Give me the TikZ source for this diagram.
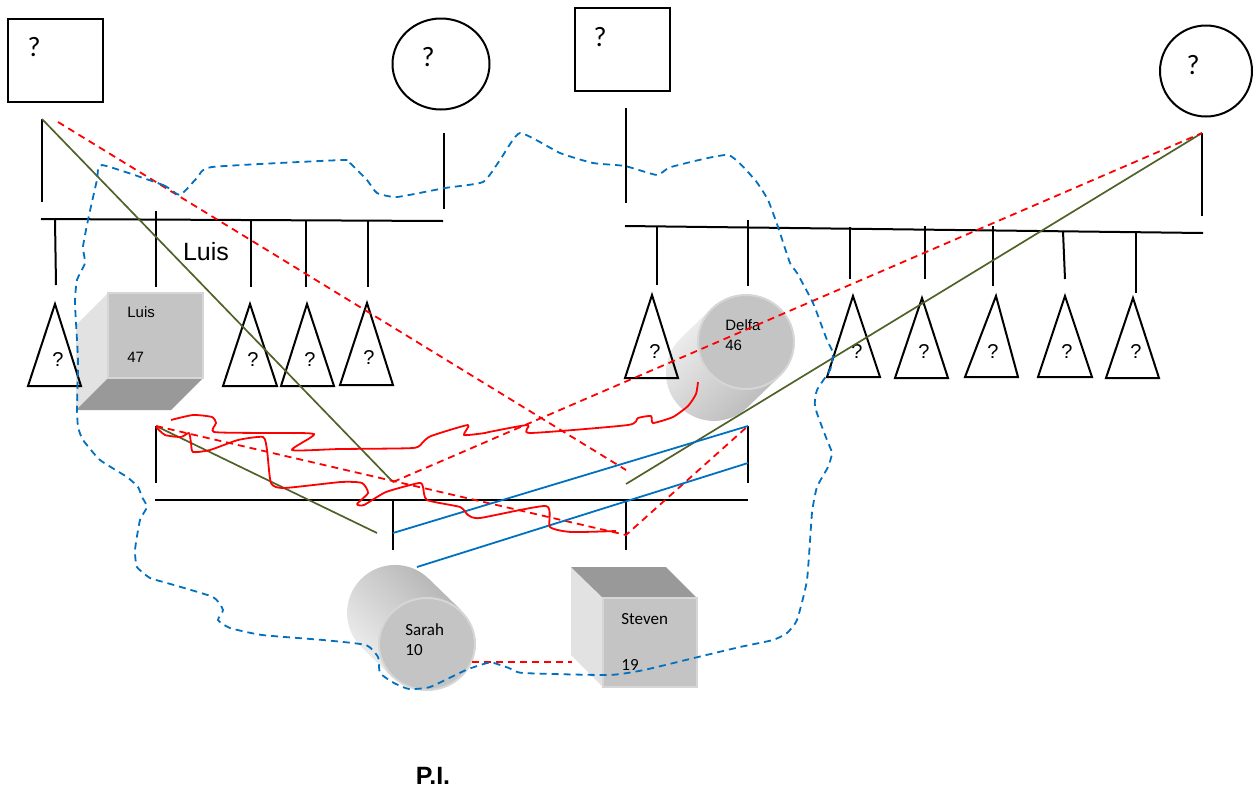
\documentclass[tikz,border=0pt]{standalone}
\usepackage{fontspec}
\setmainfont{Liberation Sans}
\newfontfamily\calib{Carlito}
\definecolor{oliveg}{HTML}{4F6228}
\definecolor{bluel}{HTML}{0070C0}
\definecolor{redl}{HTML}{FF0000}
\definecolor{cubefront}{HTML}{C4C4C4}
\definecolor{cubeside}{HTML}{E2E2E2}
\definecolor{cubedark}{HTML}{999999}
\definecolor{cuberim}{HTML}{D6D6D6}
\begin{document}
\begin{tikzpicture}[x=0.5pt,y=-0.5pt,
  blk/.style={draw=black,line width=1pt},
  grn/.style={draw=oliveg,line width=0.85pt},
  blu/.style={draw=bluel,line width=0.9pt},
  rdash/.style={draw=redl,line width=0.9pt,dash pattern=on 3.5pt off 2.5pt},
  bdash/.style={draw=bluel,line width=0.9pt,dash pattern=on 3.5pt off 2.5pt},
  rsq/.style={draw=redl,line width=0.9pt,line join=round},
  qbig/.style={font=\calib\fontsize{14}{16}\selectfont,inner sep=0pt},
  qtri/.style={font=\fontsize{10}{11}\selectfont,inner sep=0pt},
  lab/.style={font=\fontsize{7.5}{9}\selectfont,inner sep=0pt,anchor=west},
  labc/.style={font=\calib\fontsize{8.5}{10}\selectfont,inner sep=0pt,anchor=west},
  front/.style={fill=cubefront,draw=cuberim,line width=1.2pt},
  side/.style={fill=cubeside},
  dark/.style={fill=cubedark}]
\useasboundingbox (0,0) rectangle (1254,788);

% ---------- parents ----------
\draw[blk] (8,19) rectangle (103,102);
\node[qbig] (q1) at (34,47) {?};
\draw[blk] (441,64) ellipse [x radius=48.5, y radius=45.5];
\node[qbig] (q2) at (428,57) {?};
\draw[blk] (575,8) rectangle (670,91);
\node[qbig] (q3) at (600,37) {?};
\draw[blk] (1206,71) ellipse [x radius=46, y radius=45.5];
\node[qbig] (q4) at (1193,65) {?};

% ---------- left family ----------
\coordinate (L1) at (42,119);
\draw[blk] (L1) -- (42,202);
\coordinate (L2) at (444,133);
\draw[blk] (L2) -- (444,209);
\draw[blk] (41,219) -- (443,221);
\draw[blk] (55,220) -- (56,285);
\draw[blk] (156,211) -- (156,287);
\draw[blk] (251,220) -- (251,287);
\draw[blk] (306,220) -- (306,287);
\draw[blk] (368,220) -- (368,287);
\node[font=\fontsize{12.5}{14}\selectfont,inner sep=0pt] (luisbig) at (206,252) {Luis};

% Luis cube
\fill[side] (76,325) -- (108,293) -- (108,378) -- (76,410) -- cycle;
\fill[dark] (76,410) -- (108,378) -- (203,378) -- (171,410) -- cycle;
\draw[front] (108,293) rectangle (203,378);
\node[lab] (luisname) at (127,312) {Luis};
\node[lab] (luisage) at (127,357) {47};

% left triangles
\draw[blk] (55,304) -- (28,386) -- (81,386) -- cycle;
\node[qtri] (t1) at (58,360) {?};
\draw[blk] (250,304) -- (223,386) -- (277,386) -- cycle;
\node[qtri] (t2) at (253,360) {?};
\draw[blk] (307,304) -- (281,386) -- (334,386) -- cycle;
\node[qtri] (t3) at (310,360) {?};
\draw[blk] (367,303) -- (340,385) -- (393,385) -- cycle;
\node[qtri] (t4) at (369,358) {?};

% ---------- right family ----------
\coordinate (R1) at (626,108);
\draw[blk] (R1) -- (626,203);
\coordinate (R2) at (1202,133);
\draw[blk] (R2) -- (1202,216);
\draw[blk] (625,226) -- (1203,233);
\draw[blk] (657,227) -- (657,285);
\draw[blk] (748,220) -- (748,286);
\draw[blk] (850,227) -- (850,279);
\draw[blk] (925,226) -- (925,279);
\draw[blk] (993,226) -- (993,286);
\draw[blk] (1063,231) -- (1065,279);
\draw[blk] (1136,233) -- (1136,293);

% Delfa cylinder
\shade[top color=gray!12, bottom color=gray!55, shading angle=45]
  (711,309) -- (680,339) arc[start angle=225, end angle=45, radius=48] -- (780,376) -- cycle;
\draw[fill=cubefront,draw=cuberim,line width=1pt] (746,342) ellipse [x radius=48, y radius=47];
\node[lab] (delfaname) at (725,325) {Delfa};
\node[lab] (delfaage) at (725,345) {46};

% right triangles
\draw[blk] (652,295) -- (625,378) -- (678,378) -- cycle;
\node[qtri] (t5) at (655,352) {?};
\draw[blk] (853,296) -- (827,377) -- (880,377) -- cycle;
\node[qtri] (t6) at (857,352) {?};
\draw[blk] (922,298) -- (895,378) -- (948,378) -- cycle;
\node[qtri] (t7) at (924,352) {?};
\draw[blk] (996,296) -- (965,377) -- (1018,377) -- cycle;
\node[qtri] (t8) at (993,352) {?};
\draw[blk] (1065,296) -- (1038,377) -- (1092,377) -- cycle;
\node[qtri] (t9) at (1067,352) {?};
\draw[blk] (1133,298) -- (1106,378) -- (1159,378) -- cycle;
\node[qtri] (t10) at (1136,352) {?};

% ---------- child family ----------
\coordinate (C1) at (156,426);
\coordinate (C2) at (748,426);
\coordinate (C3) at (393,533);
\coordinate (C4) at (626,535);
\coordinate (C5) at (393,482);
\coordinate (C6) at (626,484);
\coordinate (C7) at (748,463);
\coordinate (C8) at (626,470);
\coordinate (C9) at (377,533);
\coordinate (C10) at (417,567);
\draw[blk] (C1) -- (156,483);
\draw[blk] (C2) -- (748,483);
\draw[blk] (155,500) -- (748,500);
\draw[blk] (393,500) -- (393,550);
\draw[blk] (626,500) -- (626,550);

% Sarah cylinder
\shade[top color=gray!60, bottom color=gray!12, shading angle=-45]
  (461,610) -- (429,579) arc[start angle=315, end angle=135, radius=48] -- (393,678) -- cycle;
\draw[fill=cubefront,draw=cuberim,line width=1pt] (427,644) ellipse [x radius=48, y radius=46];
\node[labc] (sarahname) at (405,630) {Sarah};
\node[labc] (sarahage) at (405,650) {10};

% Steven cube
\fill[side] (571,567) -- (603,598) -- (603,687) -- (571,655) -- cycle;
\fill[dark] (571,567) -- (666,567) -- (697,598) -- (603,598) -- cycle;
\draw[front] (603,598) rectangle (697,687);
\node[labc] (stevenname) at (621,619) {Steven};
\node[labc] (stevenage) at (621,665) {19};

% ---------- connectors ----------
\draw[grn] (L1) -- (C5);
\draw[grn] (C1) -- (C9);
\draw[grn] (C6) -- (R2);

\coordinate (L1r) at (58,122);
\draw[rdash] (L1r) -- (C8);
\draw[rdash] (C1) -- (C4) -- (C2);
\draw[rdash] (C5) -- (R2);
\coordinate (S1) at (472,662);
\coordinate (S2) at (572,662);
\draw[rdash] (S1) -- (S2);

\draw[blu] (C3) -- (C2);
\draw[blu] (C10) -- (C7);

% red squiggles
\draw[rsq] plot[smooth, tension=0.35] coordinates {
 (171,420) (193,415) (212,417) (216,423) (214,432) (263,433) (314,434) (292,450)
 (340,449) (413,448) (423,442) (431,436) (468,425) (464,435) (485,433) (489,432)
 (528,425) (530,433) (628,425) (638,418) (651,416) (653,423) (673,417) (688,406)
 (696,394) (698,382)};
\draw[rsq] plot[smooth, tension=0.35] coordinates {
 (156,427) (165,435) (181,437) (189,433) (191,443) (193,452) (210,450) (238,440)
 (263,437) (267,450) (271,483) (284,488) (341,482) (362,483) (368,493) (357,504)
 (364,505) (386,492) (419,483) (423,487) (427,500) (460,507) (468,515) (480,518)
 (546,506) (550,527) (571,532) (616,531)};

% blue dashed boundary
\draw[bdash] plot[smooth cycle, tension=0.3] coordinates {
 (102,165) (163,185) (180,195) (197,178) (212,167) (343,160) (350,163) (367,180)
 (377,193) (397,197) (445,188) (483,182) (500,160) (520,133) (560,153) (593,163)
 (625,166) (657,175) (671,167) (728,155) (755,180) (768,200) (778,227) (790,263)
 (797,273) (813,303) (827,340) (833,353) (830,370) (817,390) (815,407) (827,440)
 (832,453) (828,467) (817,487) (812,513) (807,580) (797,620) (787,633) (773,640)
 (740,647) (698,657) (644,670) (609,675) (523,673) (509,668) (494,663) (487,663)
 (466,670) (430,687) (409,689) (394,683) (380,673) (378,657) (366,645) (323,640)
 (262,635) (230,628) (218,620) (223,610) (213,597) (167,583) (150,578) (137,567)
 (135,550) (140,520) (147,507) (142,497) (138,487) (127,477) (100,460) (83,440)
 (78,427) (77,407) (78,360) (75,303) (77,280) (85,263) (83,247) (88,220) (97,180)};

\node[font=\bfseries\fontsize{12.5}{14}\selectfont,inner sep=0pt] (pi) at (433,776) {P.I.};
\end{tikzpicture}
\end{document}
